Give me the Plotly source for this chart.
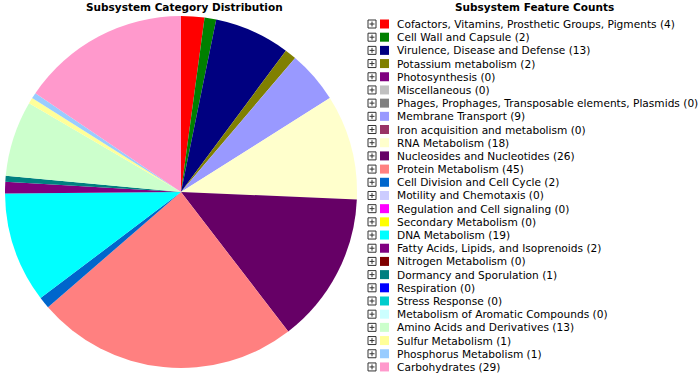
import plotly.graph_objects as go

categories = [
    "Cofactors, Vitamins, Prosthetic Groups, Pigments",
    "Cell Wall and Capsule",
    "Virulence, Disease and Defense",
    "Potassium metabolism",
    "Photosynthesis",
    "Miscellaneous",
    "Phages, Prophages, Transposable elements, Plasmids",
    "Membrane Transport",
    "Iron acquisition and metabolism",
    "RNA Metabolism",
    "Nucleosides and Nucleotides",
    "Protein Metabolism",
    "Cell Division and Cell Cycle",
    "Motility and Chemotaxis",
    "Regulation and Cell signaling",
    "Secondary Metabolism",
    "DNA Metabolism",
    "Fatty Acids, Lipids, and Isoprenoids",
    "Nitrogen Metabolism",
    "Dormancy and Sporulation",
    "Respiration",
    "Stress Response",
    "Metabolism of Aromatic Compounds",
    "Amino Acids and Derivatives",
    "Sulfur Metabolism",
    "Phosphorus Metabolism",
    "Carbohydrates",
]
counts = [4, 2, 13, 2, 0, 0, 0, 9, 0, 18, 26, 45, 2, 0, 0, 0, 19, 2, 0, 1, 0, 0, 0, 13, 1, 1, 29]
colors = [
    "#FF0000", "#008000", "#000080", "#808000", "#800080", "#C0C0C0", "#808080",
    "#9999FF", "#993366", "#FFFFCC", "#660066", "#FF8080", "#0066CC", "#CCCCFF",
    "#FF00FF", "#FFFF00", "#00FFFF", "#800080", "#800000", "#008080", "#0000FF",
    "#00CCCC", "#CCFFFF", "#CCFFCC", "#FFFF99", "#99CCFF", "#FF99CC",
]

W, H = 700, 376
FONT = "DejaVu Sans"

def px(x):
    return x / W

def py(y):
    return 1 - y / H

cx, cy, r = 181, 192, 176

fig = go.Figure(go.Pie(
    labels=categories,
    values=counts,
    marker=dict(colors=colors, line=dict(width=0)),
    sort=False,
    direction="clockwise",
    rotation=0,
    textinfo="none",
    showlegend=False,
    domain=dict(x=[px(cx - r), px(cx + r)], y=[py(cy + r), py(cy - r)]),
))

annotations = [
    dict(x=px(184), y=py(7), xref="paper", yref="paper", text="<b>Subsystem Category Distribution</b>",
         showarrow=False, xanchor="center", yanchor="middle", font=dict(family=FONT, size=10.5, color="black")),
    dict(x=px(534), y=py(7), xref="paper", yref="paper", text="<b>Subsystem Feature Counts</b>",
         showarrow=False, xanchor="center", yanchor="middle", font=dict(family=FONT, size=10.5, color="black")),
]
shapes = []
y0, dy = 24.0, 13.19
for i, (name, val, col) in enumerate(zip(categories, counts, colors)):
    yc = y0 + i * dy
    # expand icon
    shapes.append(dict(type="rect", xref="paper", yref="paper",
                       x0=px(368), x1=px(376), y0=py(yc + 4), y1=py(yc - 4),
                       line=dict(color="#333333", width=1), fillcolor="white"))
    shapes.append(dict(type="line", xref="paper", yref="paper",
                       x0=px(369.5), x1=px(374.5), y0=py(yc), y1=py(yc),
                       line=dict(color="#333333", width=1)))
    shapes.append(dict(type="line", xref="paper", yref="paper",
                       x0=px(372), x1=px(372), y0=py(yc + 2.5), y1=py(yc - 2.5),
                       line=dict(color="#333333", width=1)))
    # colour swatch
    shapes.append(dict(type="rect", xref="paper", yref="paper",
                       x0=px(380), x1=px(389), y0=py(yc + 4.5), y1=py(yc - 4.5),
                       line=dict(width=0), fillcolor=col))
    annotations.append(dict(x=px(395), y=py(yc), xref="paper", yref="paper",
                            text=f"{name} ({val})", showarrow=False,
                            xanchor="left", yanchor="middle",
                            font=dict(family=FONT, size=10.6, color="black")))

fig.update_layout(
    width=W, height=H,
    margin=dict(l=0, r=0, t=0, b=0),
    paper_bgcolor="white",
    plot_bgcolor="white",
    annotations=annotations,
    shapes=shapes,
)

fig.write_html("out.html", config={"displayModeBar": False},
               post_script="document.body.style.margin='0';document.body.style.padding='0';")
